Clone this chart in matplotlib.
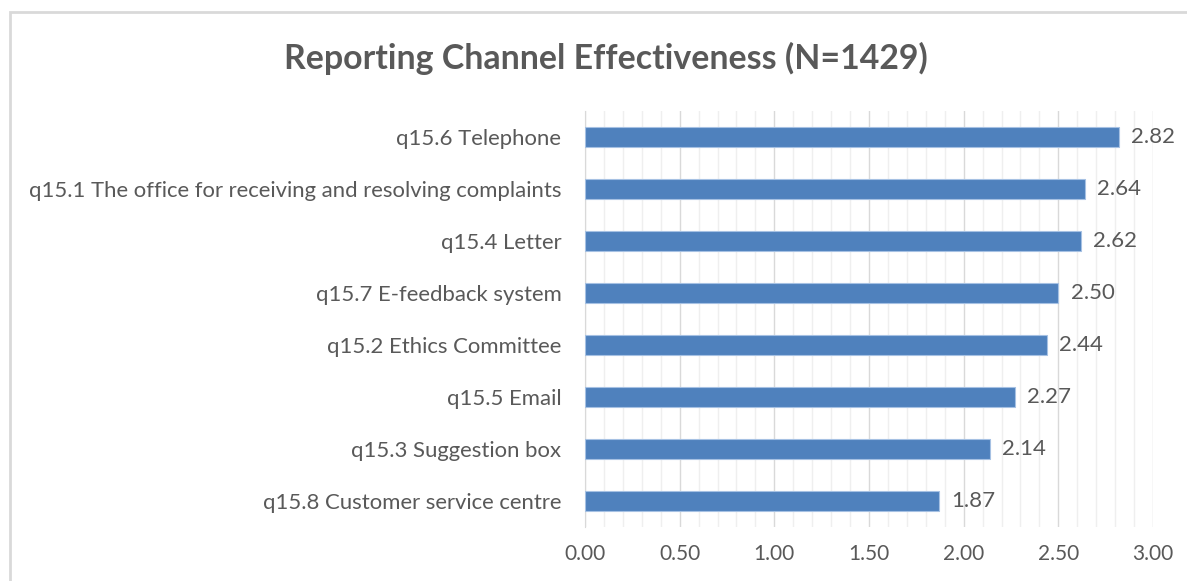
import matplotlib

matplotlib.use("Agg")
import matplotlib.pyplot as plt
from matplotlib.patches import Rectangle
from matplotlib.ticker import MultipleLocator

# data, top to bottom as shown
channels = [
    "q15.6 Telephone",
    "q15.1 The office for receiving and resolving complaints",
    "q15.4 Letter",
    "q15.7 E-feedback system",
    "q15.2 Ethics Committee",
    "q15.5 Email",
    "q15.3 Suggestion box",
    "q15.8 Customer service centre",
]
scores = [2.82, 2.64, 2.62, 2.50, 2.44, 2.27, 2.14, 1.87]
x_ticks = [0.0, 0.5, 1.0, 1.5, 2.0, 2.5, 3.0]

text_color = "#595959"
bar_color = "#4F81BD"
plt.rcParams["font.family"] = ["Lato", "DejaVu Sans"]

fig = plt.figure(figsize=(11.87, 5.81), dpi=100)
ax = fig.add_axes([585 / 1187, 1 - 527 / 581, (1153 - 585) / 1187, (527 - 111) / 581])

# chart frame like Excel's chart area border
fig.patches.append(
    Rectangle((10 / 1187, -0.1), 1.2, 1 - 12 / 581 + 0.1, transform=fig.transFigure,
              fill=False, edgecolor="#d9d9d9", linewidth=2)
)

y_pos = list(range(len(channels)))
ax.barh(y_pos, scores, height=0.4, color=bar_color, edgecolor="#a6c1e3", linewidth=0.8, zorder=3)
for y, v in zip(y_pos, scores):
    ax.text(v + 0.065, y, f"{v:.2f}", va="center", ha="left", fontsize=16, color=text_color)

ax.set_ylim(len(channels) - 0.5, -0.5)
ax.set_xlim(0, 3.0)
ax.set_yticks(y_pos)
ax.set_yticklabels(channels, fontsize=15.9, color=text_color)
ax.set_xticks(x_ticks)
ax.set_xticklabels([f"{t:.2f}" for t in x_ticks], fontsize=15, color=text_color)
ax.xaxis.set_minor_locator(MultipleLocator(0.1))
ax.tick_params(axis="both", which="both", length=0)
ax.tick_params(axis="x", pad=12.5)
ax.tick_params(axis="y", pad=17)

ax.grid(axis="x", which="major", color="#d9d9d9", linewidth=1.0, zorder=0)
ax.grid(axis="x", which="minor", color="#efefef", linewidth=1.0, zorder=0)
for side in ("top", "right", "bottom"):
    ax.spines[side].set_visible(False)
ax.spines["left"].set_color("#d9d9d9")

fig.text(606 / 1187, 1 - 58 / 581, "Reporting Channel Effectiveness (N=1429)",
         ha="center", va="center", fontsize=24.4, fontweight="bold", color=text_color)

fig.savefig("out.png", dpi=100)
